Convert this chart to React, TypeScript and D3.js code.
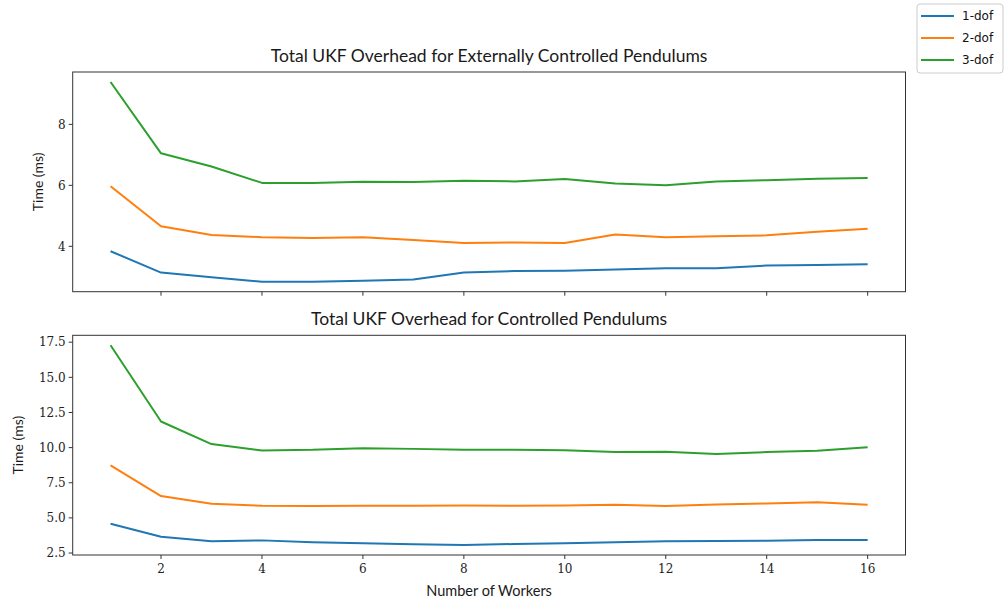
import React from "react";
import * as d3 from "d3";

const workers = [1, 2, 3, 4, 5, 6, 7, 8, 9, 10, 11, 12, 13, 14, 15, 16];
const seriesNames = ["1-dof", "2-dof", "3-dof"];
const colors = ["#1f77b4", "#ff7f0e", "#2ca02c"];

const extDof1 = [3.84, 3.14, 2.99, 2.84, 2.84, 2.87, 2.91, 3.14, 3.19, 3.2, 3.24, 3.28, 3.28, 3.37, 3.39, 3.41];
const extDof2 = [5.97, 4.66, 4.37, 4.3, 4.27, 4.3, 4.21, 4.11, 4.13, 4.11, 4.39, 4.3, 4.33, 4.36, 4.48, 4.58];
const extDof3 = [9.39, 7.05, 6.62, 6.08, 6.08, 6.12, 6.11, 6.15, 6.13, 6.21, 6.06, 6.0, 6.13, 6.17, 6.22, 6.24];

const ctlDof1 = [4.58, 3.66, 3.33, 3.4, 3.26, 3.19, 3.12, 3.07, 3.14, 3.19, 3.26, 3.33, 3.35, 3.37, 3.42, 3.42];
const ctlDof2 = [8.73, 6.55, 6.0, 5.86, 5.84, 5.86, 5.86, 5.89, 5.86, 5.89, 5.93, 5.84, 5.96, 6.03, 6.12, 5.93];
const ctlDof3 = [17.28, 11.86, 10.25, 9.8, 9.84, 9.96, 9.91, 9.84, 9.84, 9.82, 9.68, 9.7, 9.54, 9.68, 9.77, 10.03];

const xTicks = [2, 4, 6, 8, 10, 12, 14, 16];
const topYTicks = [4, 6, 8];
const bottomYTicks = [2.5, 5.0, 7.5, 10.0, 12.5, 15.0, 17.5];

const topTitle = "Total UKF Overhead for Externally Controlled Pendulums";
const bottomTitle = "Total UKF Overhead for Controlled Pendulums";
const yLabel = "Time (ms)";
const xLabel = "Number of Workers";

const serif = "'DejaVu Serif', 'Liberation Serif', serif";
const sans = "Lato, 'DejaVu Sans', sans-serif";
const legendFont = "'DejaVu Sans', sans-serif";

function margined(vals: number[][]): [number, number] {
  const all = vals.flat();
  const mn = d3.min(all)!;
  const mx = d3.max(all)!;
  const pad = (mx - mn) * 0.05;
  return [mn - pad, mx + pad];
}

type PanelProps = {
  top: number;
  bottom: number;
  series: number[][];
  yTicks: number[];
  yFmt: (v: number) => string;
  title: string;
  showXLabels: boolean;
  yLabelX: number;
};

const left = 72.7;
const right = 905.5;

function Panel({ top, bottom, series, yTicks, yFmt, title, showXLabels, yLabelX }: PanelProps) {
  const xMin = d3.min(workers)!;
  const xMax = d3.max(workers)!;
  const xPad = (xMax - xMin) * 0.05;
  const x = d3.scaleLinear().domain([xMin - xPad, xMax + xPad]).range([left, right]);
  const y = d3.scaleLinear().domain(margined(series)).range([bottom, top]);
  const line = d3
    .line<number>()
    .x((_, i) => x(workers[i]))
    .y((d) => y(d));
  return (
    <g>
      {series.map((s, i) => (
        <path key={i} d={line(s) || ""} fill="none" stroke={colors[i]} strokeWidth={2} strokeLinejoin="round" />
      ))}
      <rect x={left} y={top} width={right - left} height={bottom - top} fill="none" stroke="#333" strokeWidth={1} />
      {xTicks.map((t) => (
        <g key={t}>
          <line x1={x(t)} x2={x(t)} y1={bottom} y2={bottom + 4} stroke="#333" strokeWidth={1} />
          {showXLabels && (
            <text x={x(t)} y={bottom + 18} textAnchor="middle" fontFamily={serif} fontSize={12} fill="#222">
              {t}
            </text>
          )}
        </g>
      ))}
      {yTicks.map((t) => (
        <g key={t}>
          <line x1={left - 4} x2={left} y1={y(t)} y2={y(t)} stroke="#333" strokeWidth={1} />
          <text x={left - 7} y={y(t)} dy="0.35em" textAnchor="end" fontFamily={serif} fontSize={12} fill="#222">
            {yFmt(t)}
          </text>
        </g>
      ))}
      <text x={(left + right) / 2} y={top - 10} textAnchor="middle" fontFamily={sans} fontSize={17.5} fill="#1a1a1a">
        {title}
      </text>
      <text
        transform={`translate(${yLabelX},${(top + bottom) / 2}) rotate(-90)`}
        textAnchor="middle"
        fontFamily={sans}
        fontSize={14}
        fill="#1a1a1a"
      >
        {yLabel}
      </text>
    </g>
  );
}

export default function App() {
  return (
    <svg width={1006} height={603} style={{ position: "absolute", left: 0, top: 0, background: "#fff" }}>
      <rect width={1006} height={603} fill="#fff" />
      <Panel
        top={72}
        bottom={291.7}
        series={[extDof1, extDof2, extDof3]}
        yTicks={topYTicks}
        yFmt={(v) => String(v)}
        title={topTitle}
        showXLabels={false}
        yLabelX={43}
      />
      <Panel
        top={335.3}
        bottom={555}
        series={[ctlDof1, ctlDof2, ctlDof3]}
        yTicks={bottomYTicks}
        yFmt={(v) => v.toFixed(1)}
        title={bottomTitle}
        showXLabels={true}
        yLabelX={23}
      />
      <text x={(left + right) / 2} y={596} textAnchor="middle" fontFamily={sans} fontSize={14.5} fill="#1a1a1a">
        {xLabel}
      </text>
      <g>
        <rect x={917} y={4} width={86} height={69} rx={3} fill="#fff" stroke="#ccc" strokeWidth={1} />
        {seriesNames.map((n, i) => (
          <g key={n}>
            <line x1={921} x2={954} y1={16 + i * 22} y2={16 + i * 22} stroke={colors[i]} strokeWidth={2} />
            <text x={962} y={16 + i * 22} dy="0.35em" fontFamily={legendFont} fontSize={12} fill="#111">
              {n}
            </text>
          </g>
        ))}
      </g>
    </svg>
  );
}
